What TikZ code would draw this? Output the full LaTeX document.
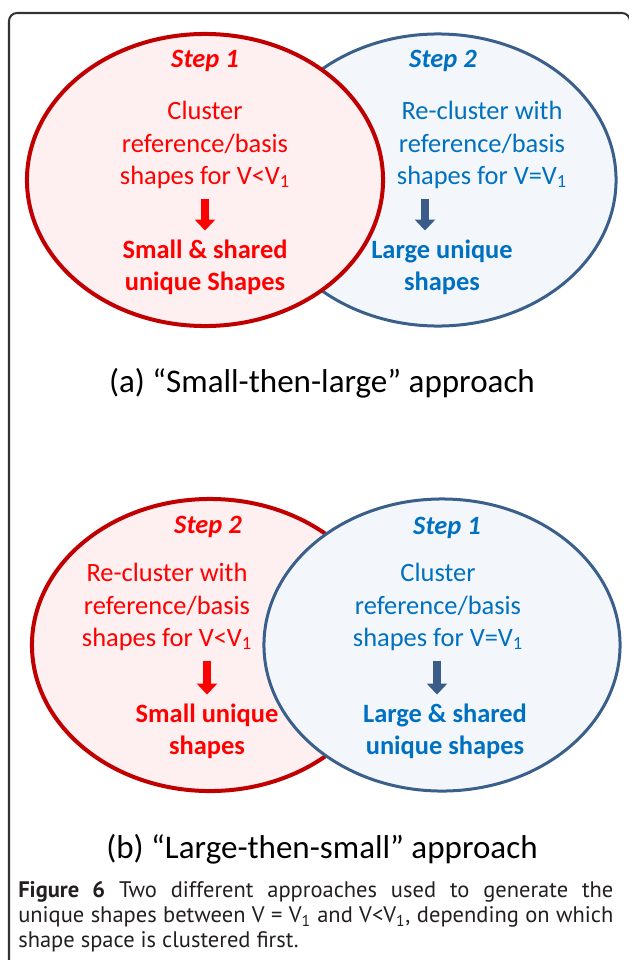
\documentclass[tikz,border=0pt]{standalone}
\usepackage{fontspec}
\setmainfont{Carlito}
\newfontfamily\capfont{PT Sans}
\usepackage{xcolor}
\definecolor{RingRed}{HTML}{C00000}
\definecolor{FillRed}{HTML}{FEF0F1}
\definecolor{RingBlue}{HTML}{3A5F8B}
\definecolor{FillBlue}{HTML}{F3F7FC}
\definecolor{TextRed}{HTML}{FF0000}
\definecolor{TextBlue}{HTML}{0070C0}
\definecolor{ArrowBlue}{HTML}{3B5C88}
\definecolor{FrameGray}{HTML}{333333}
\definecolor{CapInk}{HTML}{231F20}
\usetikzlibrary{arrows.meta, shapes.geometric}

\begin{document}
\begin{tikzpicture}[x=0.025cm, y=-0.025cm,
  ring/.style={ellipse, minimum width=89mm, minimum height=73mm, inner sep=0pt},
  redring/.style={ring, draw=RingRed, fill=FillRed, line width=1mm},
  bluering/.style={ring, draw=RingBlue, fill=FillBlue, line width=0.75mm},
  body/.style={align=center, inner sep=0pt, font=\fontsize{18.8}{22.8}\selectfont},
  steptitle/.style={inner sep=0pt, font=\fontsize{18.8}{22.8}\selectfont\bfseries\itshape},
  result/.style={align=center, inner sep=0pt, font=\fontsize{18.8}{22.8}\selectfont\bfseries},
  blockarrow/.style={line width=2mm, -{Triangle[width=5mm,length=2.75mm]}, shorten <=2.5mm, shorten >=2.2mm},
  approach/.style={inner sep=0pt, font=\fontsize{23.5}{28}\selectfont},
]
  % Page and frame
  \useasboundingbox (0,0) rectangle (629,960);
  \begin{scope}
    \clip (0,0) rectangle (629,960);
    \draw[FrameGray, line width=0.5mm, rounded corners=2mm] (9,13) rectangle (630,1000);
  \end{scope}

  % (a) Small-then-large
  \node[bluering] (blueA) at (438,180) {};
  \node[redring] (redA) at (205,180) {};
  \node[steptitle, TextRed] (stepRA) at (205,61) {Step 1};
  \node[steptitle, TextBlue] (stepBA) at (443,61) {Step 2};
  \node[body, TextRed] (bodyRA) at (205,145) {Cluster\\reference/basis\\shapes for V<V\textsubscript{1}};
  \node[body, TextBlue] (bodyBA) at (482,145) {Re-cluster with\\reference/basis\\shapes for V=V\textsubscript{1}};
  \node[result, TextRed] (resRA) at (205,267) {Small \& shared\\unique Shapes};
  \node[result, TextBlue] (resBA) at (442,267) {Large unique\\shapes};
  \draw[blockarrow, TextRed] (bodyRA.south -| 205,0) -- (resRA.north -| 205,0);
  \draw[blockarrow, ArrowBlue] (bodyBA.south -| 425,0) -- (resBA.north -| 425,0);
  \node[approach] (capA) at (322,383) {(a) “Small-then-large” approach};

  % (b) Large-then-small
  \node[redring] (redB) at (210,645) {};
  \node[bluering] (blueB) at (442,645) {};
  \node[steptitle, TextRed] (stepRB) at (208,527) {Step 2};
  \node[steptitle, TextBlue] (stepBB) at (447,528) {Step 1};
  \node[body, TextRed] (bodyRB) at (167,607) {Re-cluster with\\reference/basis\\shapes for V<V\textsubscript{1}};
  \node[body, TextBlue] (bodyBB) at (438,607) {Cluster\\reference/basis\\shapes for V=V\textsubscript{1}};
  \node[result, TextRed] (resRB) at (207,731) {Small unique\\shapes};
  \node[result, TextBlue] (resBB) at (445,731) {Large \& shared\\unique shapes};
  \draw[blockarrow, TextRed] (bodyRB.south -| 207,0) -- (resRB.north -| 207,0);
  \draw[blockarrow, ArrowBlue] (bodyBB.south -| 437,0) -- (resBB.north -| 437,0);
  \node[approach] (capB) at (322,849) {(b) “Large-then-small” approach};

  % Figure caption
  \node[anchor=west, align=left, inner sep=0pt, CapInk, font=\capfont\fontsize{16}{17.8}\selectfont] (figcap) at (18,917)
    {\makebox[148.75mm][s]{\textbf{Figure 6} Two different approaches used to generate the}\\
     \makebox[148.75mm][s]{unique shapes between V = V\textsubscript{1} and V<V\textsubscript{1}, depending on which}\\
     shape space is clustered first.};
\end{tikzpicture}
\end{document}
